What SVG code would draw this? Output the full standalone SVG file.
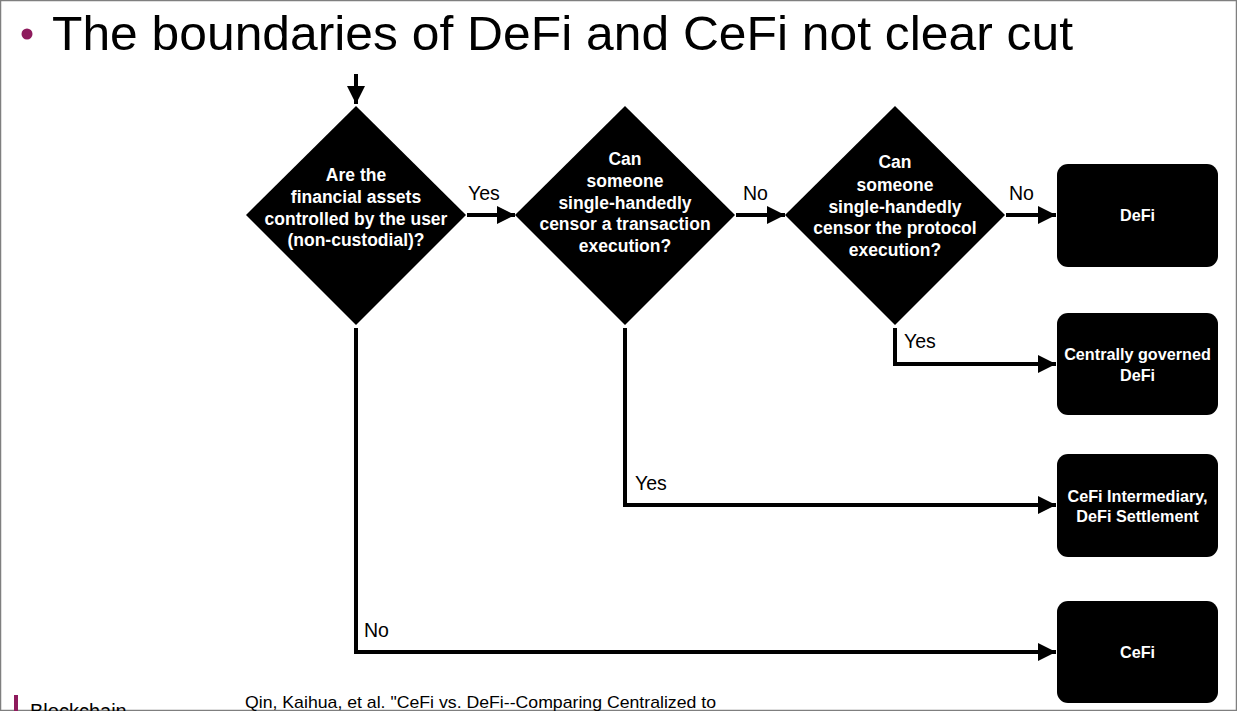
<svg xmlns="http://www.w3.org/2000/svg" width="1237" height="711" viewBox="0 0 1237 711">
<defs>
<style>
.dia{fill:#000}
.box{fill:#000}
.nt{font-family:"Liberation Sans",Arial,sans-serif;font-weight:bold;font-size:17.5px;fill:#fff;text-anchor:middle}
.bt{font-family:"Liberation Sans",Arial,sans-serif;font-weight:bold;font-size:16.2px;fill:#fff;text-anchor:middle}
.lbl{font-family:"Liberation Sans",Arial,sans-serif;font-size:19.5px;fill:#000}
.edge{fill:none;stroke:#000;stroke-width:4}
</style>
<marker id="ah" viewBox="0 0 10 10" refX="10" refY="5" markerWidth="4.5" markerHeight="4.5" markerUnits="strokeWidth" orient="auto">
<path d="M0,0 L10,5 L0,10 z" fill="#000"/>
</marker>
</defs>
<rect x="0" y="0" width="1237" height="711" fill="#fff"/>
<rect x="0.5" y="0.5" width="1236" height="710" fill="none" stroke="#7f7f7f" stroke-width="1.5"/>
<g id="title">
<circle cx="27" cy="34" r="5.5" fill="#8e1b5d"/>
<text x="52" y="50" font-family="'Liberation Sans',Arial,sans-serif" font-size="49" textLength="1021" lengthAdjust="spacingAndGlyphs" fill="#000">The boundaries of DeFi and CeFi not clear cut</text>
</g>
<g id="connectors">
<line class="edge" x1="356" y1="74" x2="356" y2="104" marker-end="url(#ah)"/>
<line class="edge" x1="467" y1="215" x2="515" y2="215" marker-end="url(#ah)"/>
<line class="edge" x1="736" y1="215" x2="785" y2="215" marker-end="url(#ah)"/>
<line class="edge" x1="1006" y1="215" x2="1056" y2="215" marker-end="url(#ah)"/>
<polyline class="edge" points="895,328 895,364 1056,364" marker-end="url(#ah)"/>
<polyline class="edge" points="625,328 625,505 1056,505" marker-end="url(#ah)"/>
<polyline class="edge" points="356,328 356,652 1056,652" marker-end="url(#ah)"/>
<text class="lbl" x="468" y="200">Yes</text>
<text class="lbl" x="743" y="200">No</text>
<text class="lbl" x="1009" y="200">No</text>
<text class="lbl" x="904" y="348">Yes</text>
<text class="lbl" x="635" y="490">Yes</text>
<text class="lbl" x="364" y="637">No</text>
</g>
<g id="q1">
<polygon class="dia" points="356,106 466,215 356,325 246,215"/>
<text class="nt" x="356" y="181">Are the</text>
<text class="nt" x="356" y="203">financial assets</text>
<text class="nt" x="356" y="225">controlled by the user</text>
<text class="nt" x="356" y="246">(non-custodial)?</text>
</g>
<g id="q2">
<polygon class="dia" points="625,106 735,215 625,325 515,215"/>
<text class="nt" x="625" y="165">Can</text>
<text class="nt" x="625" y="187">someone</text>
<text class="nt" x="625" y="209">single-handedly</text>
<text class="nt" x="625" y="230">censor a transaction</text>
<text class="nt" x="625" y="252">execution?</text>
</g>
<g id="q3">
<polygon class="dia" points="895,106 1005,215 895,325 785,215"/>
<text class="nt" x="895" y="168">Can</text>
<text class="nt" x="895" y="191">someone</text>
<text class="nt" x="895" y="213">single-handedly</text>
<text class="nt" x="895" y="234">censor the protocol</text>
<text class="nt" x="895" y="256">execution?</text>
</g>
<g id="defi">
<rect class="box" x="1057" y="164" width="161" height="103" rx="11"/>
<text class="bt" x="1137.5" y="221">DeFi</text>
</g>
<g id="cgdefi">
<rect class="box" x="1057" y="313" width="161" height="102" rx="11"/>
<text class="bt" x="1137.5" y="360">Centrally governed</text>
<text class="bt" x="1137.5" y="381">DeFi</text>
</g>
<g id="cefiint">
<rect class="box" x="1057" y="454" width="161" height="103" rx="11"/>
<text class="bt" x="1137.5" y="502">CeFi Intermediary,</text>
<text class="bt" x="1137.5" y="522">DeFi Settlement</text>
</g>
<g id="cefi">
<rect class="box" x="1057" y="601" width="161" height="102" rx="11"/>
<text class="bt" x="1137.5" y="658">CeFi</text>
</g>
<g id="footer">
<rect x="14" y="695" width="4" height="16" fill="#8e1b5d"/>
<text x="30" y="718" font-family="'Liberation Sans',Arial,sans-serif" font-size="20" fill="#000">Blockchain</text>
<text x="245" y="708" font-family="'Liberation Sans',Arial,sans-serif" font-size="17" textLength="471" lengthAdjust="spacingAndGlyphs" fill="#000">Qin, Kaihua, et al. "CeFi vs. DeFi--Comparing Centralized to</text>
</g>
</svg>
